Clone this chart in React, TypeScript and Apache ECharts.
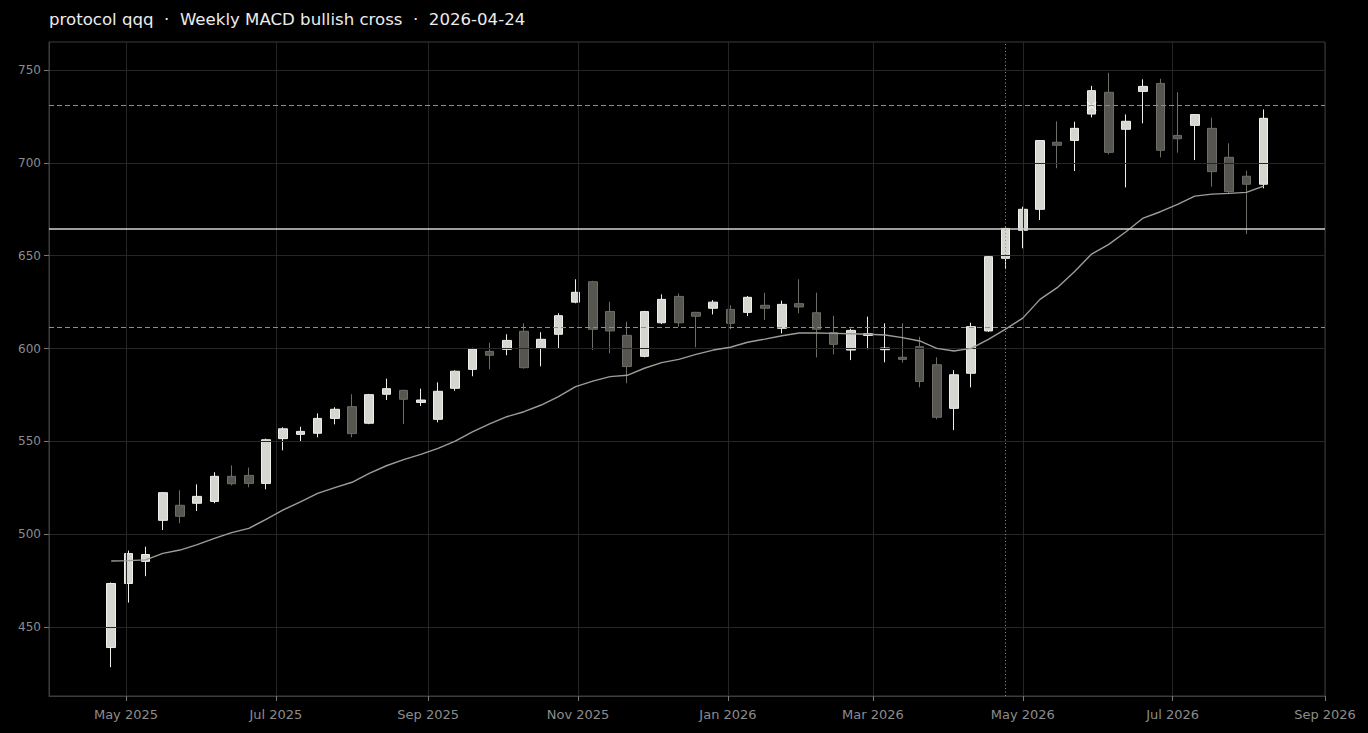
import React, { useEffect, useRef } from "react";
import * as echarts from "echarts";

const titleText = "protocol qqq  ·  Weekly MACD bullish cross  ·  2026-04-24";

const weekDates = [
  "2025-04-25", "2025-05-02", "2025-05-09", "2025-05-16", "2025-05-23", "2025-05-30",
  "2025-06-06", "2025-06-13", "2025-06-20", "2025-06-27", "2025-07-04", "2025-07-11",
  "2025-07-18", "2025-07-25", "2025-08-01", "2025-08-08", "2025-08-15", "2025-08-22",
  "2025-08-29", "2025-09-05", "2025-09-12", "2025-09-19", "2025-09-26", "2025-10-03",
  "2025-10-10", "2025-10-17", "2025-10-24", "2025-10-31", "2025-11-07", "2025-11-14",
  "2025-11-21", "2025-11-28", "2025-12-05", "2025-12-12", "2025-12-19", "2025-12-26",
  "2026-01-02", "2026-01-09", "2026-01-16", "2026-01-23", "2026-01-30", "2026-02-06",
  "2026-02-13", "2026-02-20", "2026-02-27", "2026-03-06", "2026-03-13", "2026-03-20",
  "2026-03-27", "2026-04-03", "2026-04-10", "2026-04-17", "2026-04-24", "2026-05-01",
  "2026-05-08", "2026-05-15", "2026-05-22", "2026-05-29", "2026-06-05", "2026-06-12",
  "2026-06-19", "2026-06-26", "2026-07-03", "2026-07-10", "2026-07-17", "2026-07-24",
  "2026-07-31", "2026-08-07",
];

const opens = [
  439.0, 473.5, 485.4, 507.5, 515.6, 516.7, 517.7, 531.2, 531.7, 527.4, 551.5, 553.8,
  554.4, 562.4, 568.7, 559.8, 575.4, 577.5, 571.0, 561.9, 578.6, 588.8, 598.5, 599.6,
  609.3, 600.1, 607.7, 625.0, 636.0, 620.0, 607.1, 595.8, 613.9, 628.1, 619.5, 621.7,
  621.1, 619.5, 623.3, 610.9, 624.2, 619.3, 608.6, 599.2, 607.1, 599.4, 595.3, 601.0,
  591.3, 567.8, 586.7, 609.5, 648.6, 663.7, 675.0, 711.1, 712.1, 726.3, 738.0, 718.1,
  738.5, 742.8, 714.8, 720.2, 718.6, 703.0, 692.8, 688.5,
];

const closes = [
  473.5, 489.6, 489.1, 522.4, 509.7, 520.4, 531.2, 527.2, 527.4, 550.9, 556.8, 555.4,
  562.4, 567.3, 554.2, 575.2, 578.4, 572.7, 572.3, 577.0, 587.8, 599.9, 596.4, 604.4,
  589.7, 605.0, 617.7, 630.3, 610.4, 609.5, 590.3, 619.9, 626.5, 613.9, 617.4, 625.0,
  613.6, 627.6, 621.7, 623.8, 622.4, 610.4, 602.3, 609.8, 608.0, 600.3, 594.2, 582.3,
  563.0, 585.9, 611.8, 649.5, 664.7, 675.0, 712.0, 709.5, 718.6, 738.9, 705.7, 722.4,
  741.2, 706.8, 713.0, 726.0, 695.3, 684.5, 688.5, 724.0,
];

const lows = [
  428.4, 463.2, 477.4, 502.3, 505.9, 512.5, 516.7, 526.3, 525.3, 524.2, 545.2, 550.0,
  552.2, 559.2, 552.2, 559.3, 572.3, 559.4, 569.1, 560.3, 577.3, 585.1, 588.8, 596.4,
  589.2, 590.4, 599.9, 624.4, 599.2, 597.4, 581.3, 595.3, 613.2, 611.8, 600.7, 618.4,
  610.4, 617.5, 615.4, 608.2, 619.0, 595.3, 596.9, 593.8, 599.6, 592.6, 592.4, 579.1,
  561.9, 556.1, 579.1, 609.0, 642.7, 654.0, 669.2, 697.1, 695.6, 724.5, 704.6, 686.8,
  721.3, 703.0, 705.5, 701.5, 687.2, 683.2, 661.7, 686.3,
];

const highs = [
  474.0, 491.2, 493.3, 522.8, 523.7, 526.9, 533.4, 537.1, 535.9, 551.5, 557.6, 557.9,
  565.1, 568.4, 575.4, 575.6, 583.8, 577.8, 578.4, 581.8, 588.3, 600.4, 603.2, 607.7,
  613.6, 608.8, 619.0, 637.3, 636.5, 625.2, 614.5, 620.3, 629.2, 629.7, 619.8, 626.1,
  623.3, 628.3, 630.1, 625.8, 637.3, 630.1, 617.7, 610.7, 617.2, 613.6, 613.6, 606.4,
  595.3, 588.4, 613.9, 650.0, 665.2, 676.4, 712.3, 722.4, 722.2, 741.5, 748.5, 726.1,
  745.0, 745.3, 738.0, 726.3, 724.3, 710.5, 695.8, 728.8,
];

const maValues = [
  485.6, 485.8, 486.2, 489.7, 491.5, 494.4, 497.8, 500.9, 503.2, 508.0, 513.1, 517.4,
  522.0, 525.1, 528.0, 532.8, 536.9, 540.2, 543.0, 546.3, 550.2, 555.2, 559.4, 563.3,
  566.0, 569.6, 574.1, 579.5, 582.5, 584.9, 585.6, 589.4, 592.4, 594.2, 596.9, 599.2,
  600.7, 603.4, 605.1, 606.9, 608.4, 608.4, 608.2, 608.0, 607.7, 607.3, 605.9, 604.1,
  600.1, 598.7, 600.1, 605.0, 610.5, 616.4, 626.5, 632.8, 641.4, 650.9, 656.1, 662.9,
  670.3, 673.7, 677.7, 682.1, 683.2, 683.6, 684.1, 687.5,
];

const xTickDates = [
  "2025-05-01", "2025-07-01", "2025-09-01", "2025-11-01", "2026-01-01",
  "2026-03-01", "2026-05-01", "2026-07-01", "2026-09-01",
];
const monthNames = ["Jan", "Feb", "Mar", "Apr", "May", "Jun", "Jul", "Aug", "Sep", "Oct", "Nov", "Dec"];
const yTicks = [450, 500, 550, 600, 650, 700, 750];

const targetLevel = 731.2;
const breakoutLevel = 664.4;
const supportLevel = 611.6;
const signalDate = "2026-04-24";
const crossMarkers: [string, number][] = [["2026-05-29", 730.5]];

const xMinDate = "2025-03-30";
const xMinHourOffset = 16;
const xMaxDate = "2026-09-01";
const yMin = 412.9;
const yMax = 765.1;

const FONT = "DejaVu Sans";

function ts(s: string, hour = 0): number {
  const [y, m, d] = s.split("-").map(Number);
  return new Date(y, m - 1, d, hour).getTime();
}

export default function App() {
  const ref = useRef<HTMLDivElement>(null);

  useEffect(() => {
    document.body.style.margin = "0";
    document.body.style.background = "#000";
    if (!ref.current) return;
    const chart = echarts.init(ref.current, null, { renderer: "svg" });

    const candleData = weekDates.map((d, i) => [ts(d), opens[i], closes[i], lows[i], highs[i]]);
    const maData = weekDates.map((d, i) => [ts(d), maValues[i]]);
    const markerData = crossMarkers.map(([d, v]) => [ts(d), v]);
    const xTicks = xTickDates.map((d) => ts(d));

    const option: any = {
      animation: false,
      backgroundColor: "#000000",
      title: {
        text: titleText,
        left: 49,
        top: 11,
        padding: 0,
        textStyle: { color: "#ececec", fontSize: 16.6, fontWeight: "normal", fontFamily: FONT },
      },
      grid: {
        left: 49,
        right: 43,
        top: 42,
        bottom: 37,
        show: true,
        borderColor: "#3c3c3c",
        borderWidth: 1,
        backgroundColor: "transparent",
        outerBoundsMode: "none",
      },
      xAxis: {
        type: "value",
        min: ts(xMinDate, xMinHourOffset),
        max: ts(xMaxDate),
        z: 1.5,
        axisLine: { show: true, lineStyle: { color: "#3c3c3c" } },
        axisTick: { show: true, length: 5, customValues: xTicks, lineStyle: { color: "#777" } },
        axisLabel: {
          customValues: xTicks,
          color: "#8c8c8c",
          fontSize: 13,
          fontFamily: FONT,
          margin: 12,
          formatter: (v: number) => {
            const d = new Date(v);
            return monthNames[d.getMonth()] + " " + d.getFullYear();
          },
        },
        splitLine: { show: true, lineStyle: { color: "#262626", width: 1 } },
      },
      yAxis: {
        type: "value",
        min: yMin,
        max: yMax,
        z: 1.5,
        axisLine: { show: true, lineStyle: { color: "#3c3c3c" } },
        axisTick: { show: true, length: 5, customValues: yTicks, lineStyle: { color: "#777" } },
        axisLabel: {
          customValues: yTicks,
          color: "#8c8c8c",
          fontSize: 12,
          fontFamily: FONT,
          margin: 8,
        },
        splitLine: { show: true, lineStyle: { color: "#262626", width: 1 } },
      },
      series: [
        {
          type: "candlestick",
          z: 1,
          barWidth: 9,
          encode: { x: 0, y: [1, 2, 3, 4] },
          data: candleData,
          itemStyle: {
            color: "#d6d6d0",
            color0: "#56554f",
            borderColor: "#efefeb",
            borderColor0: "#6e6d67",
            borderWidth: 1,
          },
        },
        {
          type: "line",
          z: 2,
          data: maData,
          showSymbol: false,
          smooth: false,
          lineStyle: { color: "#9d9d99", width: 1.4 },
          markLine: {
            silent: true,
            symbol: "none",
            label: { show: false },
            data: [
              { yAxis: breakoutLevel, lineStyle: { color: "#d2d2cd", width: 1.6, type: "solid" } },
              { yAxis: targetLevel, lineStyle: { color: "#8e8e8a", width: 1.2, type: [5, 3] } },
              { yAxis: supportLevel, lineStyle: { color: "#8e8e8a", width: 1.2, type: [5, 3] } },
              { xAxis: ts(signalDate), lineStyle: { color: "#8e8e8a", width: 1, type: [1, 2.5] } },
            ],
          },
        },
        {
          type: "scatter",
          z: 3,
          data: markerData,
          symbol: "path://M0,0L10,10M10,0L0,10",
          symbolSize: 9,
          itemStyle: { color: "transparent", borderColor: "#f6f6f2", borderWidth: 1.5 },
        },
      ],
    };

    chart.setOption(option);
    return () => chart.dispose();
  }, []);

  return <div ref={ref} style={{ position: "absolute", left: 0, top: 0, width: 1368, height: 733 }} />;
}
